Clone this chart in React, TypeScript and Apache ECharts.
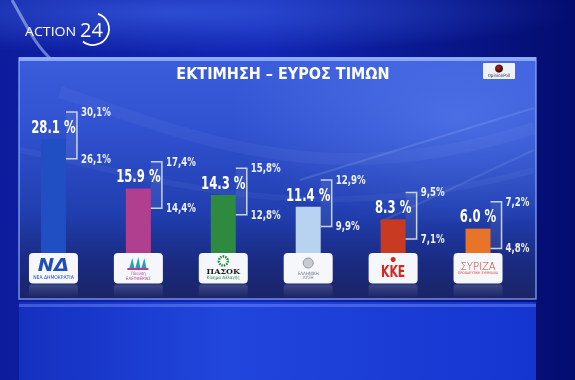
import React, { useEffect, useRef } from "react";
import * as echarts from "echarts";

const categories = ["ΝΔ", "Πλεύση Ελευθερίας", "ΠΑΣΟΚ", "Ελληνική Λύση", "ΚΚΕ", "ΣΥΡΙΖΑ"];
const estimates = [28.1, 15.9, 14.3, 11.4, 8.3, 6.0];
const lowValues = [26.1, 14.4, 12.8, 9.9, 7.1, 4.8];
const highValues = [30.1, 17.4, 15.8, 12.9, 9.5, 7.2];
const barColors = ["#1f4fc2", "#b03f8f", "#2e8a3e", "#b8d3ef", "#c93a23", "#e8742a"];

const COND = "'DejaVu Sans Condensed', 'DejaVu Sans', sans-serif";

const fmtRange = (v: number) => v.toFixed(1).replace(".", ",") + "%";

function logoContent(idx: number, cx: number, y0: number): any[] {
  const t = (text: string, x: number, y: number, size: number, fill: string, extra: any = {}, sx = 1) => ({
    type: "text",
    x,
    y,
    scaleX: sx,
    style: { text, x: 0, y: 0, fontSize: size, fill, align: "center", verticalAlign: "middle", fontFamily: COND, ...extra },
  });
  switch (idx) {
    case 0:
      return [
        t("ΝΔ", cx, y0 + 12, 17, "#1f4fb5", { fontWeight: 900, fontStyle: "italic", fontFamily: "'DejaVu Sans', sans-serif" }, 1.15),
        t("ΝΕΑ ΔΗΜΟΚΡΑΤΙΑ", cx, y0 + 24, 5, "#1f4fb5"),
      ];
    case 1:
      return [
        { type: "polygon", shape: { points: [[cx - 9, y0 + 15], [cx - 6, y0 + 5], [cx - 4, y0 + 15]] }, style: { fill: "#2b9fb4" } },
        { type: "polygon", shape: { points: [[cx - 3, y0 + 15], [cx, y0 + 4], [cx + 2, y0 + 15]] }, style: { fill: "#2b9fb4" } },
        { type: "polygon", shape: { points: [[cx + 3, y0 + 15], [cx + 6, y0 + 5], [cx + 8, y0 + 15]] }, style: { fill: "#2b9fb4" } },
        { type: "rect", shape: { x: cx - 11, y: y0 + 15, width: 21, height: 2 }, style: { fill: "#b03f8f" } },
        t("Πλεύση", cx, y0 + 20.5, 4.5, "#b03f8f"),
        t("ΕΛΕΥΘΕΡΙΑΣ", cx, y0 + 25, 4.5, "#b03f8f"),
      ];
    case 2:
      return [
        { type: "circle", shape: { cx, cy: y0 + 8, r: 4.5 }, style: { fill: "#ffffff", stroke: "#1d8a3a", lineWidth: 2.5, lineDash: [1.5, 1] } },
        t("ΠΑΣΟΚ", cx, y0 + 17.5, 8, "#1b1b1b", { fontWeight: "bold", fontFamily: "'DejaVu Serif', serif" }),
        t("Κίνημα Αλλαγής", cx, y0 + 24.5, 4.5, "#1d8a3a"),
      ];
    case 3:
      return [
        { type: "circle", shape: { cx, cy: y0 + 10, r: 5 }, style: { fill: "#c8ccd2", stroke: "#8f959e", lineWidth: 1 } },
        t("ΕΛΛΗΝΙΚΗ", cx, y0 + 20, 4.5, "#6a7a90"),
        t("ΛΥΣΗ", cx, y0 + 24.5, 4.5, "#6a7a90"),
      ];
    case 4:
      return [
        { type: "circle", shape: { cx, cy: y0 + 6.5, r: 2.5 }, style: { fill: "#d8261c" } },
        t("ΚΚΕ", cx, y0 + 18, 15, "#d8261c", { fontWeight: "bold" }, 0.8),
      ];
    default:
      return [
        t("ΣΥΡΙΖΑ", cx, y0 + 13, 10, "#d23a2e", { fontFamily: "'DejaVu Sans', sans-serif", fontWeight: 300 }),
        t("ΠΡΟΟΔΕΥΤΙΚΗ ΣΥΜΜΑΧΙΑ", cx, y0 + 20, 3.5, "#d23a2e"),
      ];
  }
}

export default function App() {
  const ref = useRef<HTMLDivElement>(null);
  useEffect(() => {
    if (!ref.current) return;
    const chart = echarts.init(ref.current, undefined, { renderer: "svg" });
    const W = 575;
    const H = 380;
    const option: any = {
      animation: false,
      graphic: [
        {
          type: "rect",
          z: -10,
          shape: { x: 0, y: 0, width: W, height: H },
          style: {
            fill: new echarts.graphic.LinearGradient(0, 0, 1, 0, [
              { offset: 0, color: "#0c1c9c" },
              { offset: 0.45, color: "#1126b4" },
              { offset: 1, color: "#030c6e" },
            ]),
          },
        },
        {
          type: "rect",
          z: -10,
          shape: { x: 0, y: 0, width: W, height: 60 },
          style: {
            fill: new echarts.graphic.RadialGradient(0.3, 0.2, 0.7, [
              { offset: 0, color: "rgba(70,110,240,0.55)" },
              { offset: 1, color: "rgba(70,110,240,0)" },
            ]),
          },
        },
        {
          type: "bezierCurve",
          z: -10,
          shape: { x1: 12, y1: 0, cpx1: 28, cpy1: 28, cpx2: 35, cpy2: 45, x2: 52, y2: 60 },
          style: { stroke: "rgba(200,220,255,0.5)", lineWidth: 3, fill: null },
        },
        {
          type: "rect",
          z: -10,
          shape: { x: 19, y: 302, width: 517, height: 78 },
          style: {
            fill: new echarts.graphic.LinearGradient(0, 0, 1, 0, [
              { offset: 0, color: "#1430c0" },
              { offset: 0.4, color: "#2146dc" },
              { offset: 1, color: "#1535d0" },
            ]),
          },
        },
        {
          type: "rect",
          z: -10,
          shape: { x: 19, y: 304, width: 517, height: 3 },
          style: { fill: "rgba(140,170,255,0.35)" },
        },
        {
          type: "rect",
          z: -9,
          shape: { x: 19, y: 58, width: 517, height: 241 },
          style: {
            fill: new echarts.graphic.LinearGradient(0, 0, 0, 1, [
              { offset: 0, color: "#3c5ddb" },
              { offset: 0.3, color: "#3051d0" },
              { offset: 0.65, color: "#203eae" },
              { offset: 0.85, color: "#1a2a80" },
              { offset: 1, color: "#1a2466" },
            ]),
            stroke: "rgba(150,180,255,0.75)",
            lineWidth: 1.5,
          },
        },
        {
          type: "rect",
          z: -9,
          shape: { x: 19, y: 58, width: 517, height: 241 },
          style: {
            fill: new echarts.graphic.RadialGradient(0.85, 0.25, 0.45, [
              { offset: 0, color: "rgba(110,150,255,0.4)" },
              { offset: 1, color: "rgba(110,150,255,0)" },
            ]),
          },
        },
        {
          type: "bezierCurve",
          z: -9,
          shape: { x1: 60, y1: 92, cpx1: 200, cpy1: 140, cpx2: 330, cpy2: 195, x2: 534, y2: 128 },
          style: { stroke: "rgba(180,210,255,0.06)", lineWidth: 12, fill: null },
        },
        {
          type: "bezierCurve",
          z: -9,
          shape: { x1: 20, y1: 150, cpx1: 150, cpy1: 175, cpx2: 300, cpy2: 235, x2: 534, y2: 170 },
          style: { stroke: "rgba(180,210,255,0.06)", lineWidth: 6, fill: null },
        },
        {
          type: "line",
          z: -9,
          shape: { x1: 300, y1: 180, x2: 534, y2: 108 },
          style: { stroke: "rgba(200,220,255,0.15)", lineWidth: 2 },
        },
        {
          type: "line",
          z: -9,
          shape: { x1: 380, y1: 222, x2: 534, y2: 150 },
          style: { stroke: "rgba(200,220,255,0.12)", lineWidth: 2 },
        },
        {
          type: "rect",
          z: -8,
          shape: { x: 19, y: 57, width: 517, height: 4 },
          style: { fill: "rgba(150,180,250,0.85)" },
        },
        {
          type: "text",
          z: 10,
          x: 25,
          y: 31,
          scaleX: 1.18,
          style: {
            text: "ACTION",
            x: 0,
            y: 0,
            fontSize: 12,
            fill: "#ffffff",
            fontFamily: "'Open Sans', sans-serif",
            verticalAlign: "middle",
          },
        },
        {
          type: "text",
          z: 10,
          style: {
            text: "24",
            x: 80,
            y: 29,
            fontSize: 20,
            fill: "#ffffff",
            fontFamily: "'Open Sans', sans-serif",
            verticalAlign: "middle",
          },
        },
        {
          type: "arc",
          z: 10,
          shape: { cx: 93, cy: 29, r: 16, startAngle: -1.25, endAngle: 2.25, clockwise: true },
          style: { stroke: "#ffffff", lineWidth: 1.8, fill: null },
        },
        {
          type: "text",
          z: 10,
          style: {
            text: "ΕΚΤΙΜΗΣΗ – ΕΥΡΟΣ ΤΙΜΩΝ",
            x: 283,
            y: 73,
            fontSize: 16,
            fontWeight: "bold",
            fill: "#ffffff",
            fontFamily: COND,
            align: "center",
            verticalAlign: "middle",
          },
        },
        {
          type: "rect",
          z: 10,
          shape: { x: 483, y: 63, width: 32, height: 16, r: 1 },
          style: { fill: "#eef1f6" },
        },
        {
          type: "circle",
          z: 10,
          shape: { cx: 499, cy: 68.5, r: 4 },
          style: {
            fill: new echarts.graphic.RadialGradient(0.4, 0.4, 0.6, [
              { offset: 0, color: "#c0201a" },
              { offset: 1, color: "#2a0505" },
            ]),
          },
        },
        {
          type: "text",
          z: 10,
          style: {
            text: "OpinionPoll",
            x: 499,
            y: 75.5,
            fontSize: 4.5,
            fill: "#2a3550",
            fontFamily: COND,
            align: "center",
            verticalAlign: "middle",
          },
        },
      ],
      grid: { left: 11, right: 54.5, top: 90.6, bottom: 127, containLabel: false },
      xAxis: { type: "category", data: categories, show: false },
      yAxis: { type: "value", min: 0, max: 40, show: false, splitLine: { show: false } },
      series: [
        {
          type: "bar",
          barWidth: 25,
          z: 2,
          data: estimates.map((v, i) => ({ value: v, itemStyle: { color: barColors[i] } })),
          label: { show: false },
        },
        {
          type: "custom",
          z: 3,
          clip: false,
          encode: { x: 0, y: 1 },
          data: categories.map((c, i) => [i, estimates[i], lowValues[i], highValues[i]]),
          renderItem: (params: any, api: any) => {
            const i = api.value(0);
            const v = api.value(1);
            const lo = api.value(2);
            const hi = api.value(3);
            const p = api.coord([i, v]);
            const base = api.coord([i, 0]);
            const cx = p[0];
            const cy = p[1] - 3.5;
            const bx = cx + 12.5;
            const vx = cx + 23.5;
            const h = 23.3;
            const y0 = base[1];
            const rangeText = (txt: string, y: number) => ({
              type: "text",
              x: vx + 4,
              y,
              scaleX: 0.8,
              style: {
                text: txt,
                x: 0,
                y: 0,
                fontSize: 12,
                fontWeight: "bold",
                fill: "#eef1f8",
                fontFamily: COND,
                verticalAlign: "middle",
              },
            });
            const children: any[] = [
              {
                type: "rect",
                shape: { x: bx, y: cy - h, width: vx - bx, height: 2 * h },
                style: { fill: "rgba(255,255,255,0.07)" },
              },
              {
                type: "polyline",
                shape: { points: [[bx, cy - h], [vx, cy - h], [vx, cy + h], [bx, cy + h]] },
                style: { stroke: "#c9d3e8", lineWidth: 1.5, fill: null },
              },
              rangeText(fmtRange(hi), cy - h),
              rangeText(fmtRange(lo), cy + h),
              {
                type: "text",
                x: cx,
                y: p[1] - 12.5,
                scaleX: 0.72,
                style: {
                  text: v.toFixed(1) + " %",
                  x: 0,
                  y: 0,
                  fontSize: 18,
                  fontWeight: "bold",
                  fill: "#ffffff",
                  fontFamily: COND,
                  align: "center",
                  verticalAlign: "middle",
                },
              },
              {
                type: "rect",
                shape: { x: cx - 24.5, y: y0 + 31.5, width: 49, height: 13, r: 3 },
                style: {
                  fill: new echarts.graphic.LinearGradient(0, 0, 0, 1, [
                    { offset: 0, color: "rgba(255,255,255,0.16)" },
                    { offset: 1, color: "rgba(255,255,255,0)" },
                  ]),
                },
              },
              {
                type: "rect",
                shape: { x: cx - 24.5, y: y0, width: 49, height: 30.5, r: 4 },
                style: { fill: "#f5f7fb" },
              },
              ...logoContent(params.dataIndex, cx, y0),
            ];
            return { type: "group", children };
          },
        },
      ],
    };
    chart.setOption(option);
    return () => chart.dispose();
  }, []);
  return <div ref={ref} style={{ position: "fixed", left: 0, top: 0, width: 575, height: 380 }} />;
}
